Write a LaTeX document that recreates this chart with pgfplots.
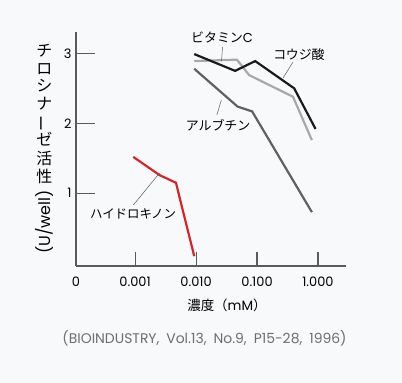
\documentclass[border=0pt]{standalone}
\usepackage{fontspec}
\setmainfont{Poppins}
\newfontfamily\cjk{Noto Sans CJK JP}
\newfontfamily\lat{Poppins}
\usepackage{graphicx}
\usepackage{pgfplots}
\pgfplotsset{compat=1.18}
\definecolor{bgcol}{RGB}{248,249,251}
\definecolor{axcol}{RGB}{90,90,90}
\definecolor{hqred}{RGB}{215,35,42}
\definecolor{vcgray}{RGB}{168,168,168}
\definecolor{argray}{RGB}{96,96,96}
\definecolor{kjblack}{RGB}{26,26,26}
\definecolor{citegray}{RGB}{110,110,110}
\begin{document}
\begin{tikzpicture}
\fill[bgcol] (-76bp,-117bp) rectangle (326bp,266bp);
\begin{axis}[
  at={(0,0)}, anchor=south west,
  scale only axis, width=270bp, height=234.3bp,
  xmin=-3.97, xmax=0.46, ymin=-0.04, ymax=3.31,
  axis x line*=bottom, axis y line*=left,
  axis line style={axcol, line width=1.1pt},
  tick style={axcol, line width=1.1pt},
  tick align=inside,
  major tick length=14bp,
  xtick={-3,-2,-1,0},
  xticklabels={0.001,0.010,0.100,1.000},
  extra x ticks={-3.97}, extra x tick labels={0},
  extra x tick style={major tick length=0pt},
  ytick=\empty,
  extra y ticks={1,2,3},
  extra y tick labels={1,2,3},
  extra y tick style={major tick length=19bp},
  /pgf/number format/assume math mode=true,
  ticklabel style={font=\lat\fontsize{13}{15}\selectfont, text=black},
  xticklabel style={yshift=-7bp},
  yticklabel style={xshift=-1bp},
  xlabel={{\cjk 濃度（}mM{\cjk ）}},
  label style={font=\fontsize{13.5}{16}\selectfont},
  xlabel style={at={(axis description cs:0.559,-0.166)}, anchor=center},
  clip=false,
]
\addplot[argray, line width=2.2pt] coordinates {(-2.03,2.78) (-1.32,2.24) (-1.08,2.17) (-0.10,0.73)};
\addplot[vcgray, line width=2.2pt] coordinates {(-2.03,2.89) (-1.33,2.91) (-1.13,2.69) (-0.41,2.38) (-0.10,1.76)};
\addplot[kjblack, line width=2.2pt] coordinates {(-2.03,2.99) (-1.36,2.75) (-1.03,2.89) (-0.39,2.50) (-0.04,1.92)};
\addplot[hqred, line width=2.2pt] coordinates {(-3.03,1.52) (-2.6,1.26) (-2.33,1.15) (-2.03,0.10)};
\draw[axcol, line width=0.5pt] (axis cs:-1.566,3.094) -- (axis cs:-1.582,2.894);
\draw[axcol, line width=0.5pt] (axis cs:-0.41,2.876) -- (axis cs:-0.574,2.647);
\draw[axcol, line width=0.5pt] (axis cs:-1.585,2.333) -- (axis cs:-1.66,2.119);
\draw[axcol, line width=0.5pt] (axis cs:-3.028,0.833) -- (axis cs:-2.602,1.286);
\node[font=\cjk\fontsize{13}{15}\selectfont] at (axis cs:-1.574,3.233) {ビタミン{\lat C}};
\node[font=\cjk\fontsize{13}{15}\selectfont] at (axis cs:-0.311,2.99) {コウジ酸};
\node[font=\cjk\fontsize{13}{15}\selectfont] at (axis cs:-1.639,1.976) {アルブチン};
\node[font=\cjk\fontsize{12.5}{15}\selectfont] at (axis cs:-3.033,0.704) {ハイドロキノン};
\node[font=\lat\fontsize{14}{16}\selectfont, text=citegray] at (axis description cs:0.476,-0.307) {(BIOINDUSTRY,\hspace{7bp}Vol.13,\hspace{7bp}No.9,\hspace{7bp}P15-28,\hspace{7bp}1996)};
\node[inner sep=0pt, anchor=north] at (axis description cs:-0.117,0.948)
  {\cjk\fontsize{16}{17.7}\selectfont\renewcommand{\arraystretch}{1}\begin{tabular}{@{}c@{}}チ\\ロ\\シ\\ナ\\\rotatebox[origin=c]{90}{ー}\\ゼ\\活\\性\\[2bp]\rotatebox{90}{\lat (U/well)}\end{tabular}};
\end{axis}
\pgfresetboundingbox
\useasboundingbox (-76bp,-117bp) rectangle (326bp,266bp);
\end{tikzpicture}
\end{document}
